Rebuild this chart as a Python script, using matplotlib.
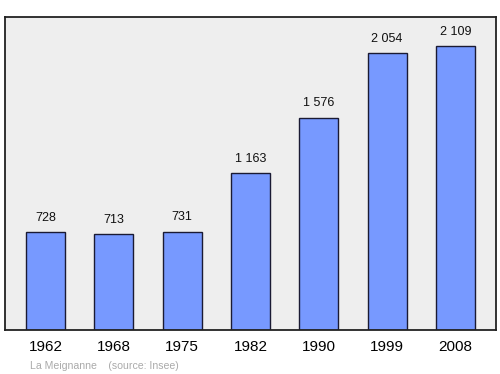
import matplotlib
matplotlib.use("Agg")
import matplotlib.pyplot as plt

plt.rcParams["font.family"] = ["Liberation Sans", "DejaVu Sans"]

# --- DATA ---
years = ["1962", "1968", "1975", "1982", "1990", "1999", "2008"]
population = [728, 713, 731, 1163, 1576, 2054, 2109]
value_labels = ["728", "713", "731", "1 163", "1 576", "2 054", "2 109"]

fig = plt.figure(figsize=(5, 3.74), dpi=100)
ax = fig.add_axes([0.01, 0.1176, 0.982, 0.837])
ax.set_facecolor("#eeeeee")

x = range(len(years))
ax.bar(x, population, width=0.57, color="#7799ff", edgecolor="#1a1a33", linewidth=1)

for xi, v, lab in zip(x, population, value_labels):
    ax.annotate(lab, (xi, v), xytext=(0, 6), textcoords="offset points",
                ha="center", va="bottom", fontsize=9, color="#111111")

ax.set_xlim(-0.593, 6.593)
ax.set_ylim(0, 2324)
ax.set_yticks([])
ax.set_xticks(list(x))
ax.set_xticklabels(years, fontsize=11)
ax.tick_params(axis="x", length=0, pad=7)
for s in ax.spines.values():
    s.set_color("#222222")
    s.set_linewidth(1.3)

fig.text(0.06, 0.014, "La Meignanne    (source: Insee)", fontsize=7.6, color="#aaaaaa")

fig.savefig("out.png", dpi=100)
